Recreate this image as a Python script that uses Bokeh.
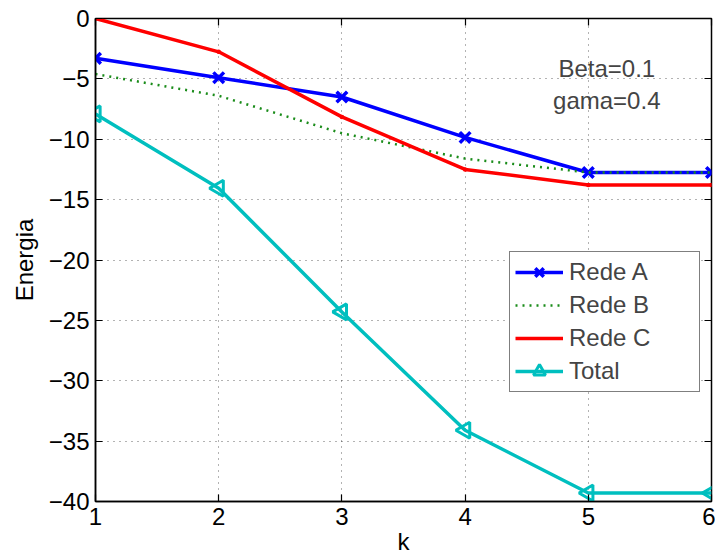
import numpy as np
from bokeh.plotting import figure
from bokeh.models import Label, LinearAxis, FixedTicker, Range1d, ColumnDataSource, CustomJSTickFormatter
from bokeh.embed import file_html
from bokeh.resources import INLINE

k = [1, 2, 3, 4, 5, 6]
rede_a = [-3.3, -4.9, -6.5, -9.85, -12.75, -12.75]
rede_b = [-4.6, -6.4, -9.5, -11.6, -12.75, -12.75]
rede_c = [0.0, -2.76, -8.15, -12.5, -13.78, -13.78]
total = [-7.9, -14.06, -24.3, -34.1, -39.3, -39.3]
x_ticks = [1, 2, 3, 4, 5, 6]
y_ticks = [0, -5, -10, -15, -20, -25, -30, -35, -40]

FONT = "Liberation Sans"
FS = "24px"

p = figure(width=715, height=559, output_backend="svg", toolbar_location=None,
           x_range=Range1d(1, 6), y_range=Range1d(-40, 0),
           min_border_left=95, min_border_right=4, min_border_top=18, min_border_bottom=58)
p.outline_line_color = "black"
p.outline_line_width = 1.5

for ax in (p.xaxis[0], p.yaxis[0]):
    ax.major_tick_in = 7
    ax.major_tick_out = 0
    ax.minor_tick_in = 0
    ax.minor_tick_out = 0
    ax.axis_line_width = 1.5
    ax.major_tick_line_width = 1.2
    ax.major_label_text_font = FONT
    ax.major_label_text_font_size = FS
    ax.major_label_text_color = "black"
    ax.axis_label_text_font = FONT
    ax.axis_label_text_font_size = FS
    ax.axis_label_text_font_style = "normal"
    ax.axis_label_text_color = "black"

p.xaxis.ticker = FixedTicker(ticks=x_ticks)
p.yaxis.ticker = FixedTicker(ticks=y_ticks)
p.xaxis.axis_label = "k"
p.yaxis.axis_label = "Energia"
p.xaxis.major_label_standoff = 6
p.xaxis.axis_label_standoff = 0
p.yaxis.major_label_standoff = 6
p.yaxis.axis_label_standoff = 8

blank = CustomJSTickFormatter(code="return ''")
for loc, ticks in (("right", y_ticks), ("above", x_ticks)):
    a = LinearAxis(ticker=FixedTicker(ticks=ticks), major_tick_in=7, major_tick_out=0,
                   minor_tick_in=0, minor_tick_out=0, formatter=blank,
                   major_label_standoff=0, axis_line_color=None, major_tick_line_width=1.2)
    p.add_layout(a, loc)

p.grid.grid_line_color = "black"
p.grid.grid_line_alpha = 0.6
p.grid.grid_line_dash = "1 5"
p.xgrid.ticker = FixedTicker(ticks=x_ticks)
p.ygrid.ticker = FixedTicker(ticks=y_ticks)

blue = "#0000ff"
green = "#1a8c1a"
red = "#ff0000"
cyan = "#00bfbf"

src_t = ColumnDataSource(dict(k=k, total=total, ang=[np.pi / 2] * len(k)))

p.line(k, rede_a, line_color=blue, line_width=3.5, legend_label="Rede A")
p.scatter(k, rede_a, marker="x", size=15, line_color=blue, line_width=3.5, legend_label="Rede A")

p.line(k, rede_b, line_color=green, line_width=2.5, line_dash="2 5", legend_label="Rede B")

p.line(k, rede_c, line_color=red, line_width=3.5, legend_label="Rede C")
p.scatter(k, rede_c, marker="dot", size=18, fill_color=red, line_color=red, legend_label="Rede C")

p.line(k, total, line_color=cyan, line_width=3.5, legend_label="Total")
p.scatter("k", "total", source=src_t, marker="triangle", angle="ang", size=16, fill_color=None,
          line_color=cyan, line_width=3, legend_label="Total")

p.legend.location = (414, 109)
p.legend.label_text_font = FONT
p.legend.label_text_font_size = FS
p.legend.border_line_color = "black"
p.legend.border_line_width = 1.5
p.legend.glyph_width = 48
p.legend.glyph_height = 30
p.legend.label_height = 30
p.legend.label_width = 125
p.legend.spacing = 3
p.legend.padding = 5
p.legend.margin = 0
p.legend.label_standoff = 6
p.legend.background_fill_alpha = 1

p.add_layout(Label(x=5.15, y=-4.1, text="Beta=0.1", text_align="center", text_baseline="middle",
                   text_font=FONT, text_font_size=FS))
p.add_layout(Label(x=5.15, y=-6.75, text="gama=0.4", text_align="center", text_baseline="middle",
                   text_font=FONT, text_font_size=FS))

open("out.html", "w").write(file_html(p, INLINE))
